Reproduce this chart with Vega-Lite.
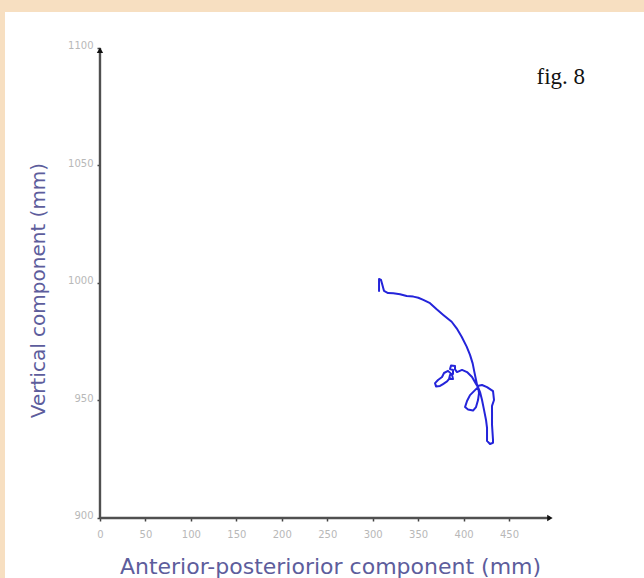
{
  "$schema": "https://vega.github.io/schema/vega-lite/v6.json",
  "width": 639,
  "height": 566,
  "autosize": {"type": "none"},
  "padding": {"left": 5, "top": 12, "right": 0, "bottom": 0},
  "background": "#f7dfc1",
  "config": {"view": {"fill": "white", "stroke": null}},
  "datasets": {
    "axes": [
      {"x": 0, "x2": 0, "y": 900, "y2": 1100},
      {"x": 0, "x2": 495, "y": 900, "y2": 900}
    ],
    "arrows": [
      {"x": 495, "y": 900, "shape": "triangle-right"},
      {"x": 0, "y": 1099, "shape": "triangle-up"}
    ],
    "path": [
      {"i": 0, "x": 307.0, "y": 996.6},
      {"i": 1, "x": 307.0, "y": 1001.7},
      {"i": 2, "x": 309.2, "y": 1001.3},
      {"i": 3, "x": 312.5, "y": 996.6},
      {"i": 4, "x": 316.9, "y": 995.7},
      {"i": 5, "x": 322.7, "y": 995.6},
      {"i": 6, "x": 330.1, "y": 995.2},
      {"i": 7, "x": 337.4, "y": 994.5},
      {"i": 8, "x": 344.7, "y": 994.2},
      {"i": 9, "x": 350.2, "y": 993.7},
      {"i": 10, "x": 355.7, "y": 992.8},
      {"i": 11, "x": 363.1, "y": 991.4},
      {"i": 12, "x": 370.4, "y": 988.8},
      {"i": 13, "x": 377.7, "y": 986.4},
      {"i": 14, "x": 386.9, "y": 983.5},
      {"i": 15, "x": 392.4, "y": 980.7},
      {"i": 16, "x": 397.9, "y": 977.1},
      {"i": 17, "x": 403.4, "y": 972.9},
      {"i": 18, "x": 407.1, "y": 969.4},
      {"i": 19, "x": 410.0, "y": 965.8},
      {"i": 20, "x": 411.8, "y": 962.3},
      {"i": 21, "x": 413.7, "y": 958.7},
      {"i": 22, "x": 415.1, "y": 956.2},
      {"i": 23, "x": 420.3, "y": 956.6},
      {"i": 24, "x": 425.8, "y": 955.7},
      {"i": 25, "x": 432.4, "y": 954.0},
      {"i": 26, "x": 433.5, "y": 950.2},
      {"i": 27, "x": 431.3, "y": 947.7},
      {"i": 28, "x": 431.3, "y": 939.6},
      {"i": 29, "x": 432.4, "y": 933.2},
      {"i": 30, "x": 432.4, "y": 932.0},
      {"i": 31, "x": 429.1, "y": 931.5},
      {"i": 32, "x": 425.8, "y": 932.8},
      {"i": 33, "x": 425.8, "y": 938.3},
      {"i": 34, "x": 424.7, "y": 941.7},
      {"i": 35, "x": 422.5, "y": 946.0},
      {"i": 36, "x": 420.3, "y": 950.2},
      {"i": 37, "x": 418.1, "y": 953.6},
      {"i": 38, "x": 415.9, "y": 955.7},
      {"i": 39, "x": 411.5, "y": 954.0},
      {"i": 40, "x": 407.1, "y": 952.3},
      {"i": 41, "x": 403.8, "y": 949.8},
      {"i": 42, "x": 401.6, "y": 947.2},
      {"i": 43, "x": 404.9, "y": 946.2},
      {"i": 44, "x": 410.4, "y": 945.7},
      {"i": 45, "x": 413.7, "y": 947.2},
      {"i": 46, "x": 415.9, "y": 950.2},
      {"i": 47, "x": 417.0, "y": 953.2},
      {"i": 48, "x": 415.9, "y": 955.7},
      {"i": 49, "x": 413.7, "y": 957.0},
      {"i": 50, "x": 409.3, "y": 960.0},
      {"i": 51, "x": 403.8, "y": 962.1},
      {"i": 52, "x": 398.3, "y": 963.0},
      {"i": 53, "x": 392.8, "y": 962.1},
      {"i": 54, "x": 390.6, "y": 963.2},
      {"i": 55, "x": 390.6, "y": 964.7},
      {"i": 56, "x": 386.2, "y": 964.9},
      {"i": 57, "x": 385.1, "y": 963.4},
      {"i": 58, "x": 388.4, "y": 963.0},
      {"i": 59, "x": 388.4, "y": 961.3},
      {"i": 60, "x": 385.1, "y": 960.9},
      {"i": 61, "x": 384.0, "y": 959.1},
      {"i": 62, "x": 388.4, "y": 959.1},
      {"i": 63, "x": 387.3, "y": 961.0},
      {"i": 64, "x": 382.9, "y": 962.6},
      {"i": 65, "x": 378.5, "y": 961.7},
      {"i": 66, "x": 376.3, "y": 960.0},
      {"i": 67, "x": 371.9, "y": 958.7},
      {"i": 68, "x": 368.6, "y": 957.4},
      {"i": 69, "x": 369.7, "y": 956.0},
      {"i": 70, "x": 374.1, "y": 956.2},
      {"i": 71, "x": 377.4, "y": 957.0},
      {"i": 72, "x": 381.8, "y": 958.1},
      {"i": 73, "x": 385.1, "y": 959.6}
    ],
    "notes": [
      {"x": 507, "y": 1084.5, "label": "fig. 8"}
    ]
  },
  "layer": [
    {
      "data": {"name": "axes"},
      "mark": {"type": "rule", "color": "#505050", "strokeWidth": 2.4},
      "encoding": {
        "x": {
          "field": "x",
          "type": "quantitative",
          "scale": {"domain": [-104.5, 598.5], "nice": false, "zero": false},
          "axis": {
            "orient": "bottom",
            "offset": -60,
            "values": [0, 50, 100, 150, 200, 250, 300, 350, 400, 450],
            "format": "d",
            "domain": false,
            "grid": false,
            "ticks": true,
            "tickSize": 3,
            "tickWidth": 1.5,
            "tickColor": "#444444",
            "labelFont": "DejaVu Sans",
            "labelFontSize": 10,
            "labelColor": "#b8b8b8",
            "labelPadding": 8,
            "title": "Anterior-posteriorior component (mm)",
            "titleFont": "DejaVu Sans",
            "titleFontSize": 22,
            "titleFontWeight": "normal",
            "titleColor": "#5d5d9c",
            "titleAlign": "center",
            "titleAnchor": "start",
            "titleBaseline": "alphabetic",
            "titleX": 325,
            "titleY": 55
          }
        },
        "x2": {"field": "x2"},
        "y": {
          "field": "y",
          "type": "quantitative",
          "scale": {"domain": [874.47, 1115.3], "nice": false, "zero": false},
          "axis": {
            "orient": "left",
            "offset": -95,
            "values": [900, 950, 1000, 1050, 1100],
            "format": "d",
            "domain": false,
            "grid": false,
            "ticks": true,
            "tickSize": 3,
            "tickWidth": 1.5,
            "tickColor": "#444444",
            "labelFont": "DejaVu Sans",
            "labelFontSize": 10,
            "labelColor": "#b8b8b8",
            "labelPadding": 4,
            "labelOffset": -2,
            "title": "Vertical component (mm)",
            "titleFont": "DejaVu Sans",
            "titleFontSize": 20,
            "titleFontWeight": "normal",
            "titleColor": "#5d5d9c",
            "titleAngle": 270,
            "titleAlign": "center",
            "titleAnchor": "start",
            "titleBaseline": "middle",
            "titleX": -62,
            "titleY": 278
          }
        },
        "y2": {"field": "y2"}
      }
    },
    {
      "data": {"name": "path"},
      "mark": {"type": "line", "color": "#2424da", "strokeWidth": 2, "strokeJoin": "round", "strokeCap": "round"},
      "encoding": {
        "x": {"field": "x", "type": "quantitative"},
        "y": {"field": "y", "type": "quantitative"},
        "order": {"field": "i", "type": "quantitative"}
      }
    },
    {
      "data": {"name": "arrows"},
      "mark": {"type": "point", "filled": true, "color": "#111111", "opacity": 1, "size": 40},
      "encoding": {
        "x": {"field": "x", "type": "quantitative"},
        "y": {"field": "y", "type": "quantitative"},
        "shape": {"field": "shape", "type": "nominal", "scale": null}
      }
    },
    {
      "data": {"name": "notes"},
      "mark": {"type": "text", "font": "Liberation Serif", "fontSize": 23, "color": "#111111", "align": "center", "baseline": "alphabetic"},
      "encoding": {
        "x": {"field": "x", "type": "quantitative"},
        "y": {"field": "y", "type": "quantitative"},
        "text": {"field": "label"}
      }
    }
  ]
}
